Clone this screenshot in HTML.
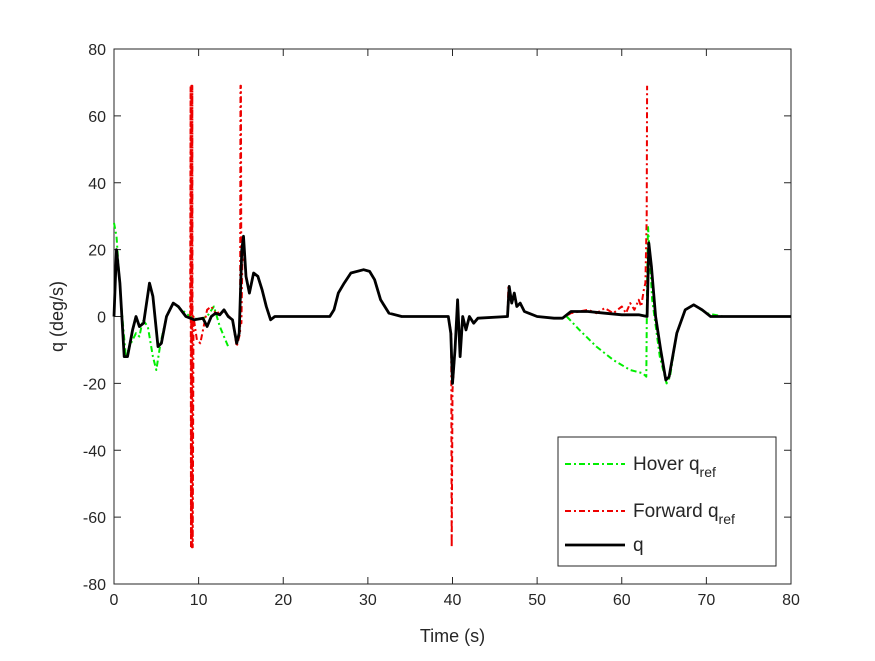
<!DOCTYPE html>
<html><head><meta charset="utf-8"><style>
body{margin:0;background:#fff}
svg text{font-family:"Liberation Sans",Arial,sans-serif;fill:#262626}
</style></head><body>
<svg width="875" height="656" viewBox="0 0 875 656">
<rect width="875" height="656" fill="#fff"/>
<g id="plot"></g>
</svg>
<script>
const xTicks=[0,10,20,30,40,50,60,70,80];
const yTicks=[80,60,40,20,0,-20,-40,-60,-80];
const qT=[0,0.3,0.7,1.2,1.6,2.2,2.6,3.0,3.5,4.2,4.6,5.2,5.6,6.2,7.0,7.6,8.5,9.5,10.5,11,11.5,12,12.5,13,13.5,14,14.5,14.8,15.1,15.3,15.6,16,16.5,17,17.5,18,18.5,19,20,25.5,26,26.5,27.2,28,29.5,30.2,30.8,31.5,32.5,34,39.5,39.8,40.0,40.3,40.6,40.9,41.2,41.6,42,42.5,43,46.5,46.7,47,47.3,47.6,48,48.5,49,50,52,53,54,56,58,60,62,63.0,63.2,63.5,64,64.6,65.2,65.6,66.5,67.5,68.5,69.5,70.5,80];
const qV=[0,20,10,-12,-12,-4,0,-3,-2,10,6,-9,-8,0,4,3,0,-1,-0.5,-3,0,1,0.5,2,0,-1,-8,-5,20,24,12,7,13,12,8,3,-1,0,0,0,2,7,10,13,14,13.5,11,5,1,0,0,-5,-20,-10,5,-12,0,-4,0,-2,-0.5,0,9,4,7,3,4,1.5,1,0,-0.5,-0.5,1.5,1.5,1,0.5,0.5,0,22,15,0,-10,-19,-18,-5,2,3.5,2,0,0];
const fT=[9.0,9.05,9.1,9.15,9.2,9.25,9.3,9.4,9.8,10.2,10.6,11,11.5,12,13,14,14.5,14.9,14.95,15.0,15.05,15.2,15.6,16,16.5,17,17.5,18,18.5,19,20,25.5,26,26.5,27.2,28,29.5,30.2,30.8,31.5,32.5,34,39.5,39.85,39.9,40.0,40.3,40.6,40.9,41.2,41.6,42,42.5,43,46.5,46.6,47,47.3,47.6,48,48.5,49,50,52,53,54,56,57,58,59,60,60.5,61,61.5,62,62.3,62.6,62.8,62.95,63.0];
const fV=[0,69,-69,69,-69,69,-69,0,-7,-8,-3,2,3,1,1.5,-1,-9,-5,69,69,-2,22,12,7,13,12,8,3,-1,0,0,0,2,7,10,13,14,13.5,11,5,1,0,0,-5,-69,-22,-10,5,-12,0,-4,0,-2,-0.5,0,9,4,7,3,4,1.5,1,0,-0.5,-0.5,1,2,1,2.5,1,3,1,4,2,5,3,8,10,30,69];
const h1T=[0,0.3,0.8,1.4,2,2.6,3,3.4,4,4.6,5.0,5.5,6.2,7,8,9,10,11,11.8,12.5,13.5];
const h1V=[28,24,5,-12,-8,-5,-6,-1,-3,-12,-16,-8,0,4,2,0,-1,0,3,-3,-9];
const h2T=[53.5,55,57,59,61,62.5,62.9,63.0,63.1,63.6,64.5,65.3,65.7,66.5,67.5,68.5,70,72,80];
const h2V=[0,-4,-9,-13,-16,-17,-18,10,27,5,-12,-20,-18,-5,2,3.5,1,0,0];

const L=114,R=791,T=49,B=584;
const sx=t=>L+(t-0)/80*(R-L);
const sy=v=>T+(80-v)/160*(B-T);
const NS="http://www.w3.org/2000/svg";
const g=document.getElementById('plot');
function mk(tag,attrs,parent){const e=document.createElementNS(NS,tag);for(const k in attrs)e.setAttribute(k,attrs[k]);(parent||g).appendChild(e);return e;}
const frame=mk('rect',{x:L,y:T,width:R-L,height:B-T,fill:'#fff',stroke:'#262626','stroke-width':1});


xTicks.forEach(t=>{
  const l=mk('line',{x1:sx(t),x2:sx(t),y1:B,y2:B-7,stroke:'#262626'});
  
  
  mk('line',{x1:sx(t),x2:sx(t),y1:T,y2:T+7,stroke:'#262626'});
  const tx=mk('text',{x:sx(t),y:B+21,'text-anchor':'middle','font-size':16});
  tx.textContent=t;
  
  
});
yTicks.forEach(v=>{
  const l=mk('line',{x1:L,x2:L+7,y1:sy(v),y2:sy(v),stroke:'#262626'});
  
  
  mk('line',{x1:R,x2:R-7,y1:sy(v),y2:sy(v),stroke:'#262626'});
  const tx=mk('text',{x:L-8,y:sy(v)+6,'text-anchor':'end','font-size':16});
  tx.textContent=v;
  
  
});
function line(ts,vs,color,w,dash,name){
  const d=ts.map((t,i)=>(i?'L':'M')+sx(t).toFixed(1)+','+sy(vs[i]).toFixed(1)).join('');
  const p=mk('path',{d:d,fill:'none',stroke:color,'stroke-width':w,'stroke-dasharray':dash,'stroke-linejoin':'round'});
  
  
}
line(h1T,h1V,'#00ee00',2,'6,3,2,3','hover-qref-line');
line(h2T,h2V,'#00ee00',2,'6,3,2,3','hover-qref-line-2');
line(fT,fV,'#ee0000',2,'6,3,2,3','forward-qref-line');
line(qT,qV,'#000',2.8,'none','q-line');
const xl=mk('text',{x:(L+R)/2,y:642,'text-anchor':'middle','font-size':18});
xl.textContent='Time (s)';


const yl=mk('text',{x:0,y:0,'text-anchor':'middle','font-size':18,transform:`translate(63,${(T+B)/2}) rotate(-90)`});
yl.textContent='q (deg/s)';


const lg=mk('g',{});


mk('rect',{x:558,y:437,width:218,height:129,fill:'#fff',stroke:'#262626'},lg);
const entries=[['#00ee00','6,3,2,3','Hover q','ref',464],['#ee0000','6,3,2,3','Forward q','ref',511],['#000','none','q','',545]];
entries.forEach(e=>{
  mk('line',{x1:565,x2:625,y1:e[4],y2:e[4],stroke:e[0],'stroke-width':e[0]=='#000'?2.8:2,'stroke-dasharray':e[1]},lg);
  const tx=mk('text',{x:633,y:e[4]+6,'font-size':19},lg);
  tx.textContent=e[2];
  if(e[3]){const s=mk('tspan',{'font-size':14,dy:7},tx);s.textContent=e[3];}
  
  
});
</script>
</body></html>
